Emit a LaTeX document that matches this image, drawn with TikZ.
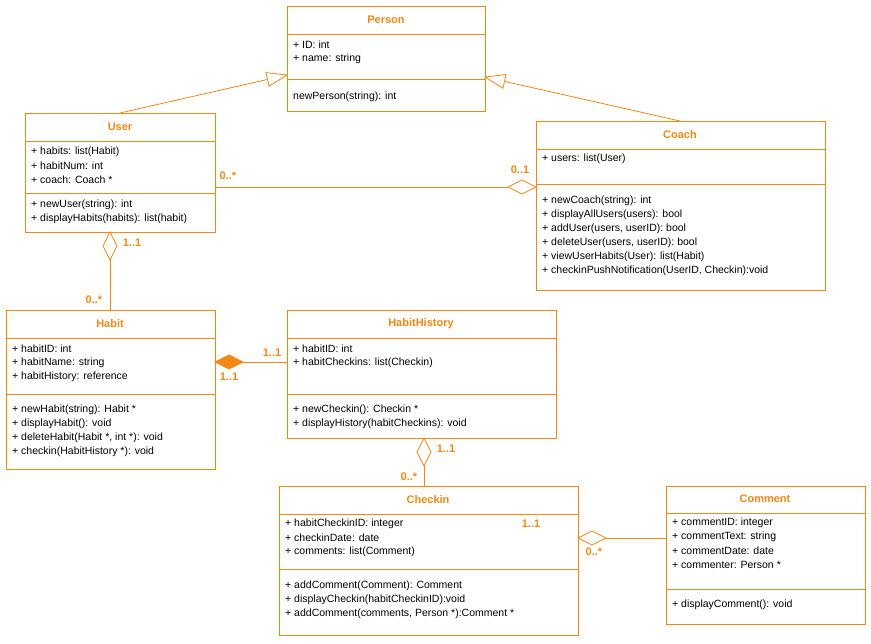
\documentclass[tikz,border=0pt]{standalone}
\usepackage{fontspec}
\setmainfont{Liberation Sans}
\usetikzlibrary{calc}
\begin{document}
\begin{tikzpicture}[x=1pt,y=-1pt,
  box/.style={draw=orr,line width=0.8pt,anchor=north west,inner sep=0pt},
  ttl/.style={font=\fontsize{11}{13}\selectfont\bfseries,text=orr},
  txt/.style={font=\fontsize{10.5}{12}\selectfont,anchor=west,inner sep=0pt},
  lbl/.style={font=\fontsize{11}{13}\selectfont\bfseries,text=orr,inner sep=0pt},
  ln/.style={draw=orr,line width=0.8pt}]
\definecolor{orr}{RGB}{245,135,20}
\useasboundingbox (0,0) rectangle (871,644);
\node[box,minimum width=198pt,minimum height=105pt] (person) at (287,6) {};
\node[box,minimum width=190pt,minimum height=119pt] (user) at (25,113) {};
\node[box,minimum width=289pt,minimum height=169pt] (coach) at (536,121) {};
\node[box,minimum width=209pt,minimum height=159pt] (habit) at (6,310) {};
\node[box,minimum width=269pt,minimum height=128pt] (hist) at (287,310) {};
\node[box,minimum width=299pt,minimum height=149pt] (checkin) at (279,486) {};
\node[box,minimum width=199pt,minimum height=138pt] (comment) at (666,486) {};
% dividers
\draw[ln] (287,34)--(485,34) (287,79)--(485,79);
\draw[ln] (25,141)--(215,141) (25,193)--(215,193);
\draw[ln] (536,149)--(825,149) (536,184)--(825,184);
\draw[ln] (6,338)--(215,338) (6,394)--(215,394);
\draw[ln] (287,338)--(556,338) (287,394)--(556,394);
\draw[ln] (279,514)--(578,514) (279,569)--(578,569);
\draw[ln] (666,513)--(865,513) (666,589)--(865,589);
% titles
\node[ttl] (tp) at (386,20) {Person};
\node[ttl] (tu) at (120,127) {User};
\node[ttl] (tc) at (680,135) {Coach};
\node[ttl] (th) at (110,324) {Habit};
\node[ttl] (thh) at (421,324) {HabitHistory};
\node[ttl] (tck) at (428,500) {Checkin};
\node[ttl] (tcm) at (765,499) {Comment};
% Person
\node[txt] (p1) at (293,45) {+ ID: int};
\node[txt] (p2) at (293,59) {+ name: string};
\node[txt] (p3) at (293,97) {newPerson(string): int};
% User
\node[txt] (u1) at (31,152) {+ habits: list(Habit)};
\node[txt] (u2) at (31,166) {+ habitNum: int};
\node[txt] (u3) at (31,180) {+ coach: Coach *};
\node[txt] (u4) at (31,205) {+ newUser(string): int};
\node[txt] (u5) at (31,219) {+ displayHabits(habits): list(habit)};
% Coach
\node[txt] (c1) at (542,159) {+ users: list(User)};
\node[txt] (c2) at (542,201) {+ newCoach(string): int};
\node[txt] (c3) at (542,215) {+ displayAllUsers(users): bool};
\node[txt] (c4) at (542,229) {+ addUser(users, userID): bool};
\node[txt] (c5) at (542,243) {+ deleteUser(users, userID): bool};
\node[txt] (c6) at (542,257) {+ viewUserHabits(User): list(Habit)};
\node[txt] (c7) at (542,271) {+ checkinPushNotification(UserID, Checkin):void};
% Habit
\node[txt] (h1) at (12,349) {+ habitID: int};
\node[txt] (h2) at (12,363) {+ habitName: string};
\node[txt] (h3) at (12,377) {+ habitHistory: reference};
\node[txt] (h4) at (12,410) {+ newHabit(string): Habit *};
\node[txt] (h5) at (12,424) {+ displayHabit(): void};
\node[txt] (h6) at (12,438) {+ deleteHabit(Habit *, int *): void};
\node[txt] (h7) at (12,452) {+ checkin(HabitHistory *): void};
% HabitHistory
\node[txt] (hh1) at (293,349) {+ habitID: int};
\node[txt] (hh2) at (293,363) {+ habitCheckins: list(Checkin)};
\node[txt] (hh3) at (293,410) {+ newCheckin(): Checkin *};
\node[txt] (hh4) at (293,424) {+ displayHistory(habitCheckins): void};
% Checkin
\node[txt] (k1) at (285,524) {+ habitCheckinID: integer};
\node[txt] (k2) at (285,538) {+ checkinDate: date};
\node[txt] (k3) at (285,552) {+ comments: list(Comment)};
\node[txt] (k4) at (285,586) {+ addComment(Comment): Comment};
\node[txt] (k5) at (285,600) {+ displayCheckin(habitCheckinID):void};
\node[txt] (k6) at (285,614) {+ addComment(comments, Person *):Comment *};
% Comment
\node[txt] (m1) at (672,523) {+ commentID: integer};
\node[txt] (m2) at (672,537) {+ commentText: string};
\node[txt] (m3) at (672,551) {+ commentDate: date};
\node[txt] (m4) at (672,565) {+ commenter: Person *};
\node[txt] (m5) at (672,605) {+ displayComment(): void};
% generalisations
\coordinate (ua) at (120,113);
\coordinate (pa) at (287,75);
\coordinate (ca) at (680,121);
\coordinate (pb) at (485,77);
\coordinate (qa) at ($(pa)!20pt!(ua)$);
\coordinate (qb) at ($(pb)!20pt!(ca)$);
\draw[ln] (ua)--(qa);
\draw[ln,fill=white] (pa)--($(qa)!7pt!90:(ua)$)--($(qa)!7pt!-90:(ua)$)--cycle;
\draw[ln] (ca)--(qb);
\draw[ln,fill=white] (pb)--($(qb)!7pt!90:(ca)$)--($(qb)!7pt!-90:(ca)$)--cycle;
% User - Coach
\draw[ln] (215,187)--(508,187);
\draw[ln,fill=white] (536,187)--(522,180)--(508,187)--(522,194)--cycle;
\node[lbl] (l1) at (228,176) {0..*};
\node[lbl] (l2) at (520,170) {0..1};
% User - Habit
\draw[ln] (110,260)--(110,310);
\draw[ln,fill=white] (110,232)--(117,246)--(110,260)--(103,246)--cycle;
\node[lbl] (l3) at (132,243) {1..1};
\node[lbl] (l4) at (94,300) {0..*};
% Habit - HabitHistory
\draw[ln] (243,362)--(287,362);
\draw[ln,fill=orr] (215,362)--(229,355)--(243,362)--(229,369)--cycle;
\node[lbl] (l5) at (272,353) {1..1};
\node[lbl] (l6) at (229,377) {1..1};
% HabitHistory - Checkin
\draw[ln] (424,466)--(424,486);
\draw[ln,fill=white] (424,438)--(431,452)--(424,466)--(417,452)--cycle;
\node[lbl] (l7) at (446,449) {1..1};
\node[lbl] (l8) at (409,477) {0..*};
% Checkin - Comment
\draw[ln] (606,538)--(666,538);
\draw[ln,fill=white] (578,538)--(592,531)--(606,538)--(592,545)--cycle;
\node[lbl] (l9) at (531,524) {1..1};
\node[lbl] (l10) at (594,552) {0..*};
\end{tikzpicture}
\end{document}
